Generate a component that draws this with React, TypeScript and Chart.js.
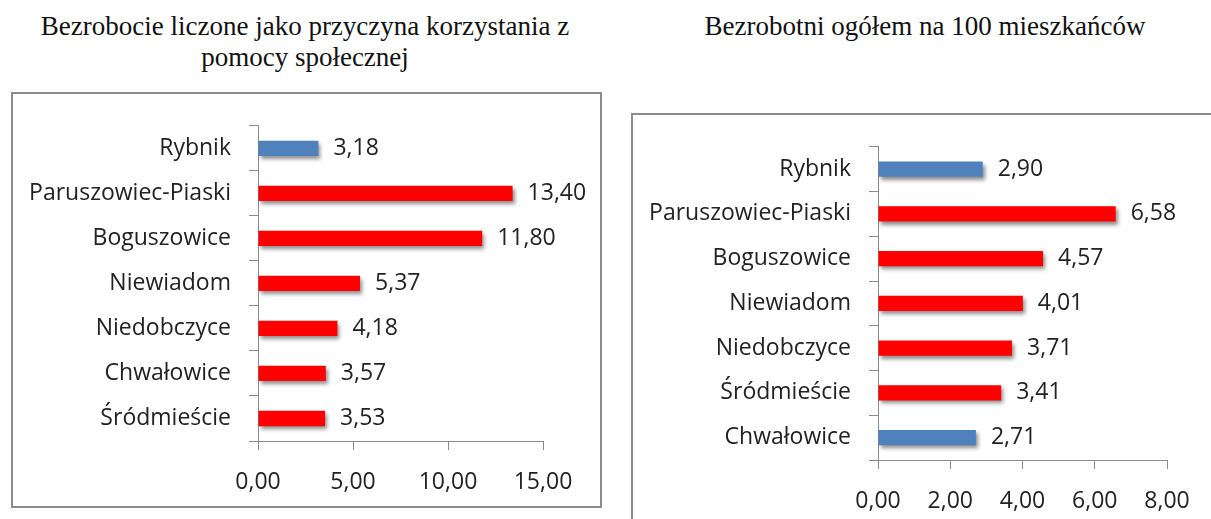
import React, { useEffect, useRef } from "react";
import { Chart, registerables } from "chart.js";

Chart.register(...registerables);

const leftTitle = ["Bezrobocie liczone jako przyczyna korzystania z", "pomocy społecznej"];
const leftCategories = ["Rybnik", "Paruszowiec-Piaski", "Boguszowice", "Niewiadom", "Niedobczyce", "Chwałowice", "Śródmieście"];
const leftValues = [3.18, 13.4, 11.8, 5.37, 4.18, 3.57, 3.53];
const leftColors = ["#4F81BD", "#FF0000", "#FF0000", "#FF0000", "#FF0000", "#FF0000", "#FF0000"];
const leftMax = 15;
const leftStep = 5;

const rightTitle = ["Bezrobotni ogółem na 100 mieszkańców"];
const rightCategories = ["Rybnik", "Paruszowiec-Piaski", "Boguszowice", "Niewiadom", "Niedobczyce", "Śródmieście", "Chwałowice"];
const rightValues = [2.9, 6.58, 4.57, 4.01, 3.71, 3.41, 2.71];
const rightColors = ["#4F81BD", "#FF0000", "#FF0000", "#FF0000", "#FF0000", "#FF0000", "#4F81BD"];
const rightMax = 8;
const rightStep = 2;

const FONT = "'Open Sans', sans-serif";
const FONT_SIZE = 23;
const AXIS_COLOR = "#8a8a8a";
const TEXT_COLOR = "#222222";

const fmt = (v: number) => v.toFixed(2).replace(".", ",");

const shadowLabels = {
  id: "shadowLabels",
  beforeDatasetsDraw(chart: any) {
    const ctx = chart.ctx;
    ctx.save();
    ctx.shadowColor = "rgba(0,0,0,0.45)";
    ctx.shadowBlur = 4;
    ctx.shadowOffsetX = 2;
    ctx.shadowOffsetY = 3;
  },
  afterDatasetsDraw(chart: any) {
    const ctx = chart.ctx;
    ctx.restore();
    ctx.save();
    ctx.font = `${FONT_SIZE}px ${FONT}`;
    ctx.fillStyle = TEXT_COLOR;
    ctx.textAlign = "left";
    ctx.textBaseline = "middle";
    const meta = chart.getDatasetMeta(0);
    const data = chart.data.datasets[0].data as number[];
    meta.data.forEach((bar: any, i: number) => {
      ctx.fillText(fmt(data[i]), bar.x + 15, bar.y);
    });
    ctx.restore();
  },
};

type BarProps = {
  categories: string[];
  values: number[];
  colors: string[];
  max: number;
  step: number;
  width: number;
  height: number;
  yWidth: number;
  xHeight: number;
  padTop: number;
  padRight: number;
};

function BarChart(p: BarProps) {
  const ref = useRef<HTMLCanvasElement>(null);
  useEffect(() => {
    if (!ref.current) return;
    const chart = new Chart(ref.current, {
      type: "bar",
      data: {
        labels: p.categories,
        datasets: [
          {
            data: p.values,
            backgroundColor: p.colors,
            borderWidth: 0,
            categoryPercentage: 1,
            barPercentage: 0.34,
          },
        ],
      },
      options: {
        indexAxis: "y",
        responsive: false,
        animation: false,
        events: [],
        layout: { padding: { top: p.padTop, right: p.padRight, left: 0, bottom: 0 } },
        plugins: { legend: { display: false }, title: { display: false }, tooltip: { enabled: false } },
        scales: {
          x: {
            min: 0,
            max: p.max,
            ticks: {
              stepSize: p.step,
              font: { family: FONT, size: FONT_SIZE },
              color: TEXT_COLOR,
              padding: 19,
              maxRotation: 0,
              callback: (v: any) => fmt(Number(v)),
            },
            grid: { drawOnChartArea: false, drawTicks: true, tickLength: 9, color: AXIS_COLOR },
            border: { color: AXIS_COLOR, width: 1 },
            afterFit: (s: any) => {
              s.height = p.xHeight;
            },
          },
          y: {
            ticks: {
              font: { family: FONT, size: FONT_SIZE },
              color: TEXT_COLOR,
              padding: 18,
            },
            grid: { drawOnChartArea: false, drawTicks: true, tickLength: 9, color: AXIS_COLOR, offset: true },
            border: { color: AXIS_COLOR, width: 1 },
            afterFit: (s: any) => {
              s.width = p.yWidth;
            },
          },
        },
      },
      plugins: [shadowLabels],
    });
    return () => chart.destroy();
  }, []);
  return <canvas ref={ref} width={p.width} height={p.height} style={{ display: "block" }} />;
}

const titleStyle: React.CSSProperties = {
  position: "absolute",
  fontFamily: "'Liberation Serif', serif",
  fontSize: 27,
  lineHeight: "31px",
  color: "#111",
  textAlign: "center",
};

export default function App() {
  return (
    <div
      style={{
        position: "fixed",
        left: 0,
        top: 0,
        width: 1211,
        height: 519,
        overflow: "hidden",
        background: "#fff",
      }}
    >
      <div style={{ ...titleStyle, left: 5, width: 600, top: 11 }}>
        {leftTitle.map((t, i) => (
          <div key={i}>{t}</div>
        ))}
      </div>
      <div style={{ ...titleStyle, left: 625, width: 600, top: 11 }}>
        {rightTitle.map((t, i) => (
          <div key={i}>{t}</div>
        ))}
      </div>
      <div
        style={{
          position: "absolute",
          left: 11,
          top: 92,
          width: 587,
          height: 412,
          border: "2px solid #8c8c8c",
        }}
      >
        <BarChart
          categories={leftCategories}
          values={leftValues}
          colors={leftColors}
          max={leftMax}
          step={leftStep}
          width={587}
          height={412}
          yWidth={245}
          xHeight={65}
          padTop={28}
          padRight={57}
        />
      </div>
      <div
        style={{
          position: "absolute",
          left: 631,
          top: 113,
          width: 600,
          height: 420,
          border: "2px solid #8c8c8c",
        }}
      >
        <BarChart
          categories={rightCategories}
          values={rightValues}
          colors={rightColors}
          max={rightMax}
          step={rightStep}
          width={600}
          height={420}
          yWidth={245}
          xHeight={75}
          padTop={28}
          padRight={66}
        />
      </div>
    </div>
  );
}
